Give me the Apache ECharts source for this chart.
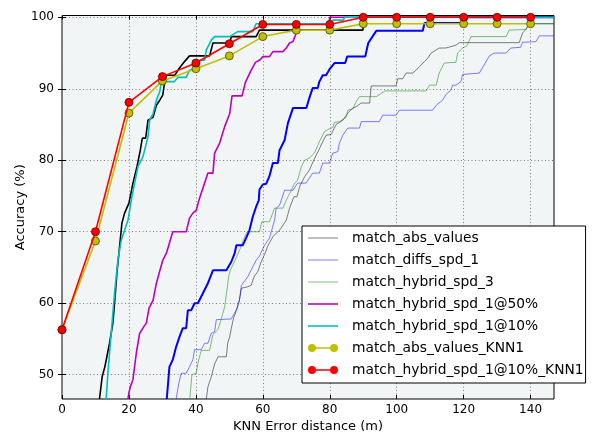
<!DOCTYPE html>
<html>
<head>
<meta charset="utf-8">
<script src="https://cdn.jsdelivr.net/npm/echarts@6/dist/echarts.min.js"></script>
<style>
  html, body { margin: 0; padding: 0; background: #fff; }
  #chart { width: 594px; height: 432px; }
</style>
</head>
<body>
<div id="chart"></div>
<script>
// Tick positions
const xTicks = [0, 20, 40, 60, 80, 100, 120, 140];
const yTicks = [50, 60, 70, 80, 90, 100];

// KNN1 curves, sampled every 10 m
const knnDistances = [0, 10, 20, 30, 40, 50, 60, 70, 80, 90, 100, 110, 120, 130, 140];
const absValuesKnn1 = [56.3, 68.7, 86.6, 91.1, 92.8, 94.6, 97.3, 98.2, 98.2, 99.1, 99.1, 99.1, 99.1, 99.1, 99.1];
const hybrid10Knn1 = [56.3, 70.0, 88.1, 91.7, 93.6, 96.3, 99.0, 99.0, 99.0, 100, 100, 100, 100, 100, 100];

// Cumulative accuracy curves: [error distance (m), accuracy (%)]
const absValues = [[43.1,46.6],[43.6,48.3],[44.6,49.7],[45.6,51.5],[46.6,52.5],[49.1,52.5],[49.5,54.4],[50.1,55.3],[50.6,56.5],[51.3,58.0],[52.3,59.2],[53.0,60.4],[53.6,62.1],[55.5,62.3],[56.5,62.5],[57.5,63.8],[58.5,64.4],[59.5,65.8],[60.5,66.8],[61.5,68.0],[63.0,69.3],[64.0,69.8],[65.0,70.2],[67.0,71.6],[68.0,73.3],[69.3,74.9],[70.2,74.9],[71.0,76.3],[72.5,77.7],[73.9,78.6],[75.4,80.2],[76.9,81.6],[77.9,82.6],[78.9,83.5],[80.4,83.6],[81.9,85.0],[83.9,85.6],[85.4,86.6],[86.9,87.3],[87.9,87.5],[89.4,88.0],[91.9,88.0],[92.4,90.4],[99.8,90.4],[100.3,91.4],[101.8,91.4],[102.8,92.2],[104.8,92.2],[105.8,92.6],[106.8,93.1],[108.3,93.8],[109.3,94.3],[110.3,95.0],[112.7,95.7],[114.7,95.7],[116.2,95.9],[117.7,96.1],[118.7,96.45],[136.6,96.45],[137.6,97.8],[138.6,98.3],[139.6,99.1],[147,99.1]];

const diffsSpd1 = [[34.1,46.6],[34.9,48.8],[35.6,50.2],[37.1,50.2],[38.1,51.1],[39.1,52.1],[39.6,53.5],[41.6,53.5],[42.6,54.4],[43.6,54.4],[44.6,55.8],[45.6,56.0],[46.1,57.7],[50.6,57.8],[52.1,59.1],[53.0,60.4],[53.6,62.5],[55.5,63.7],[57.0,65.1],[58.0,66.0],[59.0,66.6],[60.5,68.1],[62.0,69.1],[63.5,71.6],[64.0,73.3],[65.0,73.7],[66.5,75.8],[69.0,75.8],[70.4,76.8],[72.9,76.8],[73.9,77.5],[74.9,78.2],[76.9,78.2],[77.9,79.6],[79.9,79.6],[80.9,81.0],[82.4,81.2],[82.9,82.4],[83.9,83.5],[85.4,84.5],[88.9,84.5],[89.4,85.4],[94.8,85.4],[95.8,86.3],[99.8,86.3],[100.8,87.0],[110.7,87.0],[111.8,87.7],[113.7,88.4],[114.7,89.2],[116.2,89.8],[116.7,90.5],[117.7,90.5],[119.2,91.0],[119.7,92.0],[124.7,92.2],[125.7,93.0],[127.7,94.6],[129.2,95.0],[132.7,95.0],[134.1,95.7],[137.0,95.8],[137.6,96.5],[141.6,96.6],[142.6,97.4],[147,97.4]];

const hybridSpd3 = [[38.2,46.6],[38.8,50.0],[40.1,50.2],[40.6,51.6],[41.6,53.4],[44.1,53.4],[45.1,55.6],[46.6,56.3],[47.6,57.8],[48.6,59.5],[49.9,64.0],[50.3,64.6],[51.0,65.3],[52.3,66.6],[53.3,67.7],[54.2,68.9],[55.3,70.0],[59.0,70.0],[59.7,71.4],[62.0,71.4],[63.5,73.3],[66.0,73.3],[67.0,74.4],[68.5,75.8],[69.5,76.8],[70.4,77.2],[71.5,79.1],[72.5,80.0],[73.9,80.3],[75.4,81.0],[76.9,82.6],[78.4,84.0],[79.5,84.3],[80.9,84.6],[81.4,85.3],[82.9,85.4],[84.9,86.0],[85.4,87.0],[86.9,87.2],[87.9,88.2],[88.9,88.9],[93.9,88.9],[96.5,89.7],[108.8,89.7],[109.8,90.5],[111.8,90.5],[112.7,92.2],[114.2,93.6],[117.7,93.7],[118.2,95.0],[119.7,95.7],[121.0,96.0],[122.2,97.3],[132.7,97.3],[133.6,98.2],[138.6,98.3],[139.6,99.1],[147,99.1]];

const hybridSpd1At50 = [[19.7,46.6],[20.0,47.5],[20.4,48.3],[21.2,49.3],[22.2,53.0],[23.2,55.8],[24.7,56.9],[25.2,57.2],[26.0,59.3],[27.2,60.4],[28.2,62.8],[29.2,64.5],[30.1,66.0],[31.2,67.0],[33.1,70.0],[37.1,70.0],[38.1,71.9],[39.1,72.6],[40.1,73.0],[41.1,74.7],[42.6,76.8],[43.6,78.2],[45.1,78.2],[45.6,81.0],[47.1,82.4],[48.6,84.7],[50.1,86.5],[50.8,89.0],[53.8,89.0],[54.8,90.9],[56.3,92.4],[57.8,93.7],[59.3,94.1],[60.0,94.5],[62.0,94.5],[63.0,95.2],[66.0,95.2],[67.0,95.7],[68.0,96.4],[69.0,96.6],[70.0,97.8],[70.5,98.2],[79.6,98.2],[80.0,100],[147,100]];

const hybridSpd1At10 = [[13.2,46.6],[13.7,50.2],[14.7,55.8],[15.7,61.4],[16.7,66.0],[17.7,68.8],[18.7,70.2],[19.7,71.6],[20.7,74.4],[21.7,76.8],[22.7,79.1],[24.2,80.5],[25.7,83.3],[26.2,85.6],[27.2,86.5],[28.2,88.4],[29.2,89.6],[29.7,91.0],[33.6,91.0],[34.6,91.6],[37.1,91.6],[38.1,92.6],[40.1,92.8],[41.1,94.0],[42.6,94.0],[43.1,95.4],[44.6,96.8],[45.6,97.3],[50.1,97.3],[50.6,97.5],[52.5,98.0],[57.0,98.0],[58.0,99.1],[80.0,99.1],[81.0,99.6],[84.0,99.6],[84.5,100],[147,100]];

// Companion curves drawn without a legend entry
const auxBlack = [[11.2,46.6],[12.0,49.7],[12.8,51.1],[14.2,54.4],[15.2,57.2],[15.7,60.0],[16.4,64.2],[17.2,67.9],[17.9,71.2],[18.7,72.6],[20.0,74.0],[21.2,76.8],[22.4,79.1],[23.4,81.4],[24.0,83.1],[25.0,83.1],[25.7,85.6],[27.2,86.0],[28.2,87.7],[29.2,88.4],[30.1,89.1],[30.7,91.0],[31.2,91.9],[33.7,91.9],[35.1,92.9],[36.6,93.8],[38.1,94.6],[44.1,94.6],[45.1,96.4],[50.1,96.4],[50.6,97.3],[58.0,97.3],[59.0,98.2],[89.9,98.2],[90.4,100],[147,100]];

const auxBlue = [[31.3,46.6],[32.1,51.1],[33.1,52.1],[34.1,53.9],[35.1,55.3],[36.1,56.5],[37.1,56.5],[37.6,59.0],[38.6,59.0],[39.6,60.0],[40.6,60.0],[42.1,61.4],[43.6,62.8],[45.1,64.6],[49.1,64.6],[50.6,65.8],[51.6,67.0],[52.1,68.1],[54.0,68.1],[55.0,69.1],[56.0,70.2],[57.0,72.1],[58.0,73.5],[58.8,74.4],[59.0,75.9],[60.0,76.6],[61.0,76.7],[62.0,77.8],[63.0,79.6],[64.5,79.6],[65.0,81.4],[66.5,82.8],[67.5,85.2],[69.0,87.3],[73.0,87.3],[73.9,88.7],[74.9,90.1],[76.4,90.1],[76.9,91.0],[77.9,91.9],[78.9,91.9],[79.9,92.7],[81.4,93.6],[84.6,93.6],[85.2,94.5],[90.6,94.5],[91.5,96.4],[93.9,98.1],[107.8,98.1],[108.3,99.2],[120.5,99.2],[121.0,100],[147,100]];

const FONT = 'DejaVu Sans';
const thinIcon = 'path://M0,4.5h30v1h-30z';
const thickIcon = 'path://M0,4.2h30v1.6h-30z';
const markerIcon = 'path://M0,5a4,4 0 1,0 8,0a4,4 0 1,0 -8,0zM22,5a4,4 0 1,0 8,0a4,4 0 1,0 -8,0zM8,4.2h14v1.6h-14z';

function curve(name, data, color, width, z) {
  return {
    name, type: 'line', data, color, z,
    symbol: 'none', silent: true,
    lineStyle: { color, width },
    itemStyle: { color }
  };
}

function knnCurve(name, values, color, edge, z) {
  return {
    name, type: 'line', z, color, silent: true,
    data: knnDistances.map((d, i) => [d, values[i]]),
    symbol: 'circle', symbolSize: 8, showSymbol: true,
    lineStyle: { color, width: 1.6 },
    itemStyle: { color, borderColor: edge, borderWidth: 0.8 }
  };
}

const chart = echarts.init(document.getElementById('chart'), null, { renderer: 'canvas' });

const tickStyle = { show: true, inside: true, length: 4, lineStyle: { color: '#000', width: 1 } };

chart.setOption({
  animation: false,
  backgroundColor: '#fff',
  grid: {
    left: 62, right: 40, top: 15.5, bottom: 33,
    outerBoundsMode: 'none', containLabel: false,
    show: true, backgroundColor: '#f2f5f6', borderColor: '#000', borderWidth: 1
  },
  xAxis: [
    {
      type: 'value', min: 0, max: 147, position: 'bottom',
      name: 'KNN Error distance (m)', nameLocation: 'middle', nameGap: 21,
      nameMoveOverlap: false,
      nameTextStyle: { fontFamily: FONT, fontSize: 13, color: '#000' },
      axisLine: { show: false },
      axisTick: Object.assign({ customValues: xTicks }, tickStyle),
      axisLabel: { customValues: xTicks, fontFamily: FONT, fontSize: 12, color: '#000', margin: 5 },
      splitLine: { show: true, lineStyle: { color: '#808080', width: 1, type: [1, 2.5] } }
    },
    {
      type: 'value', min: 0, max: 147, position: 'top',
      axisLine: { show: false },
      axisTick: Object.assign({ customValues: xTicks }, tickStyle),
      axisLabel: { show: false },
      splitLine: { show: false }
    }
  ],
  yAxis: [
    {
      type: 'value', min: 46.6, max: 100.25, position: 'left',
      name: 'Accuracy (%)', nameLocation: 'middle', nameGap: 35,
      nameMoveOverlap: false,
      nameTextStyle: { fontFamily: FONT, fontSize: 13, color: '#000' },
      axisLine: { show: false },
      axisTick: Object.assign({ customValues: yTicks }, tickStyle),
      axisLabel: { customValues: yTicks, fontFamily: FONT, fontSize: 12, color: '#000', margin: 8 },
      splitLine: { show: true, lineStyle: { color: '#808080', width: 1, type: [1, 2.5] } }
    },
    {
      type: 'value', min: 46.6, max: 100.25, position: 'right',
      axisLine: { show: false },
      axisTick: Object.assign({ customValues: yTicks }, tickStyle),
      axisLabel: { show: false },
      splitLine: { show: false }
    }
  ],
  legend: {
    orient: 'vertical', left: 302, top: 226,
    padding: [5, 2, 6, 6],
    itemWidth: 30, itemHeight: 10, itemGap: 8,
    backgroundColor: '#fff', borderColor: '#000', borderWidth: 1, borderRadius: 0,
    selectedMode: false,
    textStyle: { fontFamily: FONT, fontSize: 13.8, color: '#000', lineHeight: 14, padding: [0, 0, 0, 9] },
    data: [
      { name: 'match_abs_values', icon: thinIcon },
      { name: 'match_diffs_spd_1', icon: thinIcon },
      { name: 'match_hybrid_spd_3', icon: thinIcon },
      { name: 'match_hybrid_spd_1@50%', icon: thickIcon },
      { name: 'match_hybrid_spd_1@10%', icon: thickIcon },
      { name: 'match_abs_values_KNN1', icon: markerIcon, itemStyle: { borderWidth: 0 } },
      { name: 'match_hybrid_spd_1@10%_KNN1', icon: markerIcon, itemStyle: { borderWidth: 0 } }
    ]
  },
  series: [
    curve('match_abs_values', absValues, 'rgba(0,0,0,0.5)', 1, 2),
    curve('match_diffs_spd_1', diffsSpd1, 'rgba(0,0,255,0.5)', 1, 2),
    curve('match_hybrid_spd_3', hybridSpd3, 'rgba(0,128,0,0.5)', 1, 2),
    curve('aux_blue', auxBlue, '#0000ff', 2, 3),
    curve('match_hybrid_spd_1@50%', hybridSpd1At50, '#bf00bf', 1.6, 3),
    curve('aux_black', auxBlack, '#000000', 1.6, 3),
    curve('match_hybrid_spd_1@10%', hybridSpd1At10, '#00bfbf', 1.6, 3),
    knnCurve('match_abs_values_KNN1', absValuesKnn1, '#bfbf00', '#4d4d00', 4),
    knnCurve('match_hybrid_spd_1@10%_KNN1', hybrid10Knn1, '#ff0000', '#660000', 5)
  ]
});
</script>
</body>
</html>
